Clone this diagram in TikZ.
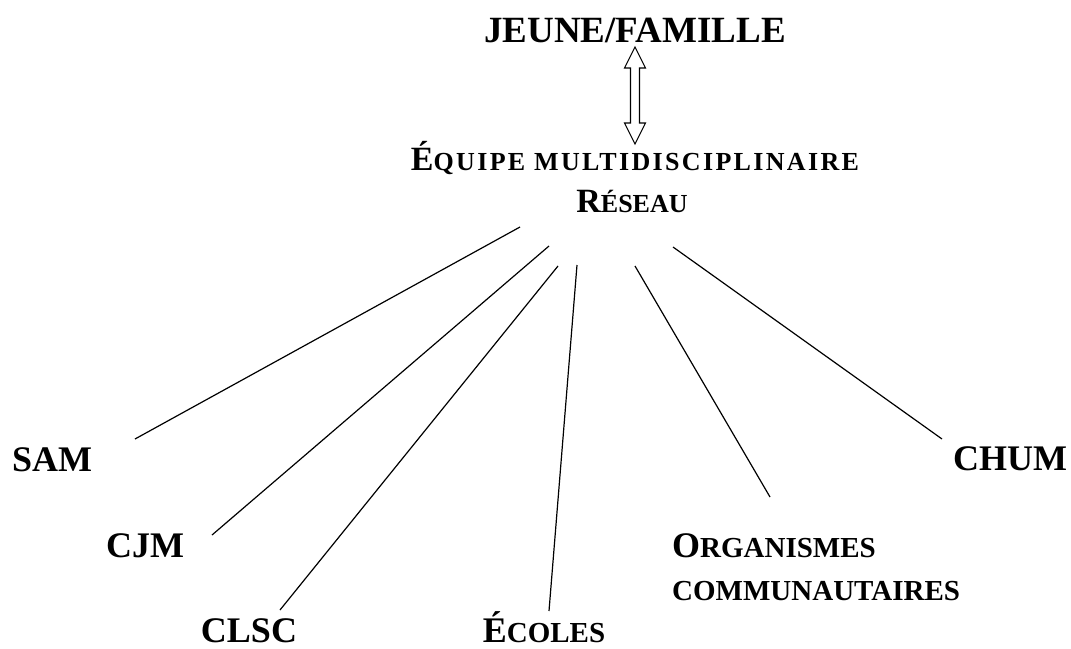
\documentclass[tikz,border=0pt]{standalone}
\usepackage{fontspec}
\setmainfont{Liberation Serif}
\usepackage{tikz}
\usetikzlibrary{calc}

% petites capitales faites a la main
\newcommand{\petit}[1]{{\fontsize{29}{29}\selectfont #1}}
\newcommand{\petitlarge}[1]{{\fontsize{26}{26}\selectfont\addfontfeature{LetterSpace=9}#1}}

\begin{document}
\begin{tikzpicture}[x=1pt,y=-1pt,
  lbl/.style={font=\bfseries\fontsize{36}{36}\selectfont, anchor=base, inner sep=0pt},
  mid/.style={font=\bfseries\fontsize{34}{34}\selectfont, anchor=base, inner sep=0pt},
  trait/.style={line width=1.2pt}]

  \useasboundingbox (0,0) rectangle (1071,648);

  % Haut
  \node[lbl,font=\bfseries\fontsize{37}{37}\selectfont] (jeune) at (635,42) {JEUNE/FAMILLE};
  \node[mid] (equipe) at (635,170) {É\petitlarge{QUIPE MULTIDISCIPLINAIRE}};
  \node[mid] (reseau) at (632,212) {R{\fontsize{26}{26}\selectfont ÉSEAU}};

  % Fleche double
  \coordinate (ftop) at (635,47);
  \coordinate (fbot) at (635,144);
  \draw[line width=1.1pt] (ftop) -- ++(10.5,21) -- ++(-6,0) -- ($(fbot)+(4.5,-21)$) -- ++(6,0)
    -- (fbot) -- ++(-10.5,-21) -- ++(6,0) -- ($(ftop)+(-4.5,21)$) -- ++(-6,0) -- cycle;

  % Partenaires
  \node[lbl] (sam) at (52,471) {SAM};
  \node[lbl] (cjm) at (145,557) {CJM};
  \node[lbl] (clsc) at (249,642) {CLSC};
  \node[lbl] (ecoles) at (544,642) {É\petit{COLES}};
  \node[lbl,anchor=base west] (organismes) at (672,557) {O\petit{RGANISMES}};
  \node[lbl,anchor=base west] (communautaires) at (672,600) {\petit{COMMUNAUTAIRES}};
  \node[lbl] (chum) at (1010,470) {CHUM};

  % Liens
  \coordinate (d1) at (520,227); \coordinate (a1) at (135,439);
  \coordinate (d2) at (549,246); \coordinate (a2) at (212,535);
  \coordinate (d3) at (558,266); \coordinate (a3) at (280,610);
  \coordinate (d4) at (577,265); \coordinate (a4) at (549,611);
  \coordinate (d5) at (635,266); \coordinate (a5) at (770,497);
  \coordinate (d6) at (673,247); \coordinate (a6) at (942,439);
  \foreach \i in {1,...,6}
    \draw[trait] (d\i) -- (a\i);

\end{tikzpicture}
\end{document}
